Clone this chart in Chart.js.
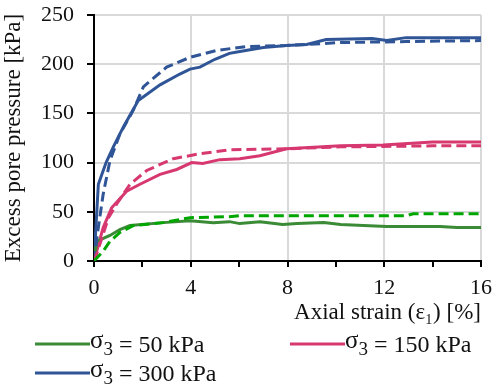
<!DOCTYPE html>
<html><head><meta charset="utf-8">
<script src="https://cdn.jsdelivr.net/npm/chart.js@4"></script>
<style>html,body{margin:0;padding:0;background:#fff}canvas{display:block}</style>
</head><body>
<canvas id="c" width="494" height="387"></canvas>
<script>
const pressures = [50, 150, 300];
const colors = ['#3a8a36', '#d6386f', '#2f5597'];
const dashedColors = ['#00a600', '#d6386f', '#2f5597'];

const g50SolidX = [0,0.11,0.66,1.07,1.49,2.86,3.97,4.93,5.6,6.03,6.86,7.8,8.4,9.5,10.2,12.1,14.3,15,16];
const g50SolidY = [0,20,26,32,36,39,41,39,40,38,40,37,38,39,37,35,35,34,34];
const g50DashX = [0,0.38,0.66,1.07,1.62,2.86,3.97,5.6,6.03,12.9,13.2,16];
const g50DashY = [0,10,20,29,36,39,44,45,46,46,48,48];

const p150SolidX = [0,0.38,0.73,1.35,1.9,2.73,3.42,4.04,4.5,5.2,6.03,6.86,7.96,10.2,11.95,14,16];
const p150SolidY = [0,34,54,71,78,88,93,100,99,103,104,107,114,117,118,121,121];
const p150DashX = [0,0.11,0.6,0.94,1.49,2.18,3.28,4.38,5.6,7.96,10.2,14,16];
const p150DashY = [0,7,44,58,78,92,104,109,113,114,116,117,117];

const b300SolidX = [0,0.18,0.5,0.8,1.21,1.83,2.73,3.55,3.97,4.38,5.0,5.6,6.03,7.0,7.96,8.79,9.6,11.5,12.1,12.9,14,16];
const b300SolidY = [0,78,100,116,136,163,179,190,195,197,205,211,213,217,219,220,225,226,224,227,227,227];
const b300DashX = [0,0.1,0.18,0.38,0.66,1.07,1.62,2.04,3.0,3.97,5.07,6.3,7.96,10.2,12.9,16];
const b300DashY = [0,20,34,68,102,129,153,177,197,207,214,218,219,222,223,224];

const xTickStep = 2, xLabelStep = 4, xMax = 16;
const yMax = 250, yStep = 50;
const xTitle = 'Axial strain (ε₁) [%]';
const yTitle = 'Excess pore pressure [kPa]';

const FONT = '"Liberation Serif","Times New Roman",serif';
const pts = (xs, ys) => xs.map((x, i) => ({x, y: ys[i]}));

const solids = [[g50SolidX,g50SolidY],[p150SolidX,p150SolidY],[b300SolidX,b300SolidY]];
const dashes = [[g50DashX,g50DashY],[p150DashX,p150DashY],[b300DashX,b300DashY]];
const datasets = [];
dashes.forEach((d, i) => datasets.push({
  label: 'dash' + i, data: pts(d[0], d[1]), borderColor: dashedColors[i],
  borderWidth: 3, borderDash: [10, 5], pointRadius: 0, fill: false, tension: 0, isLegend: false
}));
solids.forEach((d, i) => datasets.push({
  label: 'σ3 = ' + pressures[i] + ' kPa', data: pts(d[0], d[1]), borderColor: colors[i],
  borderWidth: 3, pointRadius: 0, fill: false, tension: 0, isLegend: true, pressure: pressures[i]
}));

const legendPlugin = {
  id: 'customLegend',
  afterDraw(chart) {
    const ctx = chart.ctx;
    const slots = [[35, 344], [290, 344], [35, 373]];
    let k = 0;
    chart.data.datasets.forEach(ds => {
      if (!ds.isLegend) return;
      const [x0, y0] = slots[k++];
      ctx.save();
      ctx.strokeStyle = ds.borderColor; ctx.lineWidth = 3;
      ctx.beginPath(); ctx.moveTo(x0, y0); ctx.lineTo(x0 + 55, y0); ctx.stroke();
      ctx.fillStyle = '#111'; ctx.textBaseline = 'alphabetic';
      let x = x0 + 55;
      ctx.font = '25px ' + FONT; ctx.fillText('σ', x, y0 + 4); x += ctx.measureText('σ').width;
      ctx.font = '19px ' + FONT; ctx.fillText('3', x, y0 + 11); x += ctx.measureText('3').width;
      ctx.font = '24px ' + FONT; ctx.fillText(' = ' + ds.pressure + ' kPa', x, y0 + 8);
      ctx.restore();
    });
  }
};

new Chart(document.getElementById('c'), {
  type: 'line',
  data: { datasets },
  options: {
    responsive: false, animation: false,
    layout: { padding: { top: 0, right: 0, left: 0, bottom: 60 } },
    plugins: { legend: { display: false }, tooltip: { enabled: false } },
    scales: {
      x: {
        type: 'linear', min: 0, max: xMax,
        afterFit: s => { s.height = 66; s.paddingRight = 13; s.paddingLeft = 0; },
        ticks: { stepSize: xTickStep, autoSkip: false, maxRotation: 0, padding: 8, color: '#111',
          font: { family: FONT, size: 22 },
          callback: v => (v % xLabelStep === 0 ? v : '') },
        grid: { color: c => (c.tick && c.tick.value % xLabelStep === 0 && c.tick.value !== 0 ? '#d9d9d9' : 'rgba(0,0,0,0)'),
          lineWidth: 2, tickColor: '#000', tickLength: 6, tickWidth: 2 },
        border: { color: '#000', width: 2 },
        title: { display: true, text: xTitle, align: 'end', color: '#111', font: { family: FONT, size: 23 }, padding: { top: 0, bottom: 0 } }
      },
      y: {
        min: 0, max: yMax,
        afterFit: s => { s.width = 94; s.paddingTop = 15; s.paddingBottom = 0; },
        ticks: { stepSize: yStep, padding: 13, color: '#111', font: { family: FONT, size: 22 } },
        grid: { color: c => (c.tick && c.tick.value !== 0 ? '#d9d9d9' : 'rgba(0,0,0,0)'),
          lineWidth: 2, tickColor: '#000', tickLength: 7, tickWidth: 2 },
        border: { color: '#000', width: 2 },
        title: { display: true, text: yTitle, color: '#111', font: { family: FONT, size: 23 }, padding: { top: 0, bottom: 0 } }
      }
    }
  },
  plugins: [legendPlugin]
});
</script>
</body></html>
